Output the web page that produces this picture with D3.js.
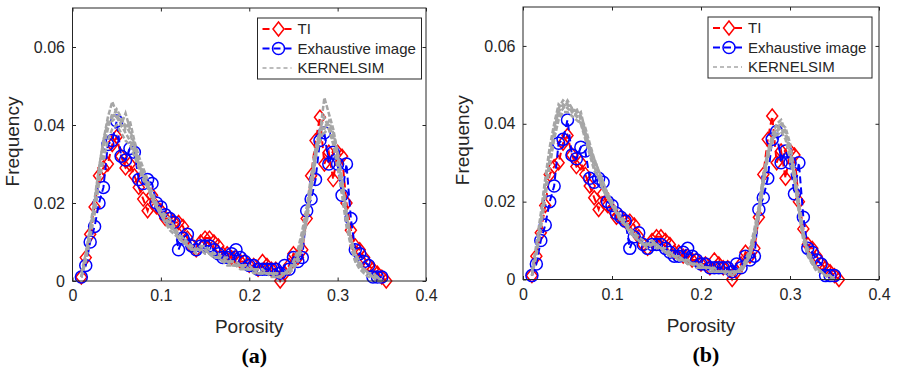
<!DOCTYPE html>
<html>
<head>
<meta charset="utf-8">
<script src="https://cdn.jsdelivr.net/npm/d3@7"></script>
<style>
body{margin:0;background:#fff;}
text{font-family:"Liberation Sans",Arial,Helvetica,sans-serif;fill:#262626;}
.caption{font-family:"Liberation Serif","Times New Roman",serif;font-weight:bold;fill:#000;}
</style>
</head>
<body>
<script>
//porosity bin centres (x values)
var porosity = [0.010,0.015,0.020,0.025,0.030,0.035,0.040,0.045,0.050,0.055,
    0.060,0.065,0.070,0.075,0.080,0.085,0.090,0.095,0.100,0.105,
    0.110,0.115,0.120,0.125,0.130,0.135,0.140,0.145,0.150,0.155,
    0.160,0.165,0.170,0.175,0.180,0.185,0.190,0.195,0.200,0.205,
    0.210,0.215,0.220,0.225,0.230,0.235,0.240,0.245,0.250,0.255,
    0.260,0.265,0.270,0.275,0.280,0.285,0.290,0.295,0.300,0.305,
    0.310,0.315,0.320,0.325,0.330,0.335,0.340,0.345,0.350,0.355];

//training image histogram
var tiFreq = [0.001,0.006,0.012,0.019,0.027,0.029,0.030,0.035,0.037,0.032,
    0.029,0.030,0.027,0.024,0.021,0.018,0.022,0.019,0.018,0.016,
    0.016,0.015,0.015,0.014,0.011,0.009,0.008,0.010,0.011,0.011,
    0.010,0.009,0.007,0.007,0.006,0.006,0.005,0.005,0.004,0.004,
    0.003,0.005,0.004,0.003,0.003,0.000,0.002,0.004,0.007,0.006,
    0.008,0.016,0.027,0.036,0.042,0.030,0.033,0.026,0.033,0.032,
    0.020,0.013,0.009,0.008,0.006,0.004,0.003,0.002,0.001,0.000];

//exhaustive image histogram
var eiFreq = [0.001,0.004,0.010,0.014,0.020,0.024,0.035,0.036,0.041,0.032,
    0.031,0.034,0.033,0.026,0.025,0.026,0.025,0.020,0.019,0.017,
    0.016,0.015,0.008,0.011,0.012,0.009,0.008,0.009,0.009,0.009,
    0.008,0.007,0.006,0.006,0.007,0.008,0.006,0.005,0.004,0.004,
    0.003,0.003,0.003,0.003,0.003,0.002,0.004,0.003,0.006,0.005,
    0.006,0.018,0.021,0.026,0.036,0.038,0.030,0.033,0.030,0.022,
    0.030,0.016,0.008,0.007,0.005,0.004,0.001,0.001,0.001];

//KERNELSIM realizations, panel (a)
var kernelA1 = [0.001,0.006,0.012,0.019,0.027,0.034,0.039,0.043,0.042,0.041,
    0.040,0.038,0.034,0.031,0.028,0.025,0.023,0.020,0.018,0.017,
    0.016,0.014,0.012,0.011,0.010,0.009,0.008,0.009,0.009,0.008,
    0.007,0.007,0.006,0.006,0.005,0.005,0.004,0.004,0.004,0.003,
    0.003,0.003,0.002,0.002,0.002,0.002,0.002,0.003,0.004,0.006,
    0.011,0.017,0.025,0.033,0.038,0.040,0.040,0.037,0.031,0.025,
    0.017,0.010,0.006,0.004,0.003,0.002,0.001,0.001,0.000];
var kernelA2 = [0.002,0.007,0.014,0.021,0.029,0.036,0.042,0.046,0.043,0.040,
    0.043,0.039,0.035,0.030,0.027,0.024,0.021,0.019,0.017,0.015,
    0.014,0.013,0.011,0.010,0.009,0.008,0.008,0.008,0.007,0.007,
    0.006,0.006,0.005,0.005,0.004,0.004,0.004,0.003,0.003,0.003,
    0.002,0.002,0.002,0.002,0.001,0.001,0.002,0.002,0.003,0.005,
    0.009,0.015,0.023,0.031,0.038,0.047,0.043,0.039,0.033,0.026,
    0.018,0.011,0.007,0.005,0.003,0.002,0.001,0.001,0.000];
var kernelA3 = [0.001,0.005,0.011,0.017,0.025,0.031,0.036,0.039,0.040,0.038,
    0.036,0.035,0.032,0.029,0.026,0.024,0.022,0.019,0.017,0.016,
    0.015,0.013,0.012,0.011,0.009,0.008,0.007,0.008,0.008,0.007,
    0.007,0.006,0.006,0.005,0.005,0.004,0.004,0.003,0.003,0.003,
    0.003,0.002,0.002,0.002,0.002,0.001,0.002,0.003,0.005,0.007,
    0.012,0.018,0.026,0.034,0.037,0.038,0.039,0.036,0.032,0.024,
    0.016,0.009,0.005,0.004,0.002,0.002,0.001,0.000,0.000];
var kernelA4 = [0.001,0.006,0.013,0.020,0.028,0.035,0.040,0.042,0.044,0.042,
    0.039,0.041,0.036,0.032,0.029,0.026,0.022,0.020,0.018,0.016,
    0.014,0.013,0.011,0.010,0.009,0.009,0.008,0.009,0.008,0.007,
    0.006,0.006,0.005,0.005,0.005,0.004,0.004,0.004,0.003,0.003,
    0.002,0.002,0.002,0.002,0.002,0.001,0.002,0.002,0.004,0.006,
    0.010,0.016,0.024,0.032,0.036,0.039,0.041,0.038,0.033,0.026,
    0.017,0.011,0.007,0.004,0.003,0.002,0.002,0.001,0.000];
var kernelA5 = [0.001,0.007,0.013,0.020,0.029,0.036,0.041,0.041,0.042,0.040,
    0.038,0.036,0.033,0.030,0.027,0.025,0.021,0.019,0.017,0.015,
    0.013,0.012,0.011,0.010,0.009,0.008,0.008,0.008,0.008,0.007,
    0.006,0.006,0.005,0.004,0.004,0.004,0.003,0.003,0.003,0.002,
    0.002,0.002,0.002,0.001,0.001,0.001,0.002,0.003,0.005,0.008,
    0.013,0.019,0.027,0.034,0.039,0.042,0.039,0.035,0.029,0.022,
    0.014,0.009,0.005,0.003,0.002,0.001,0.001,0.000,0.000];

//KERNELSIM realizations, panel (b)
var kernelB1 = [0.002,0.008,0.016,0.025,0.033,0.039,0.043,0.045,0.044,0.043,
    0.044,0.041,0.037,0.033,0.030,0.027,0.024,0.022,0.020,0.018,
    0.016,0.015,0.013,0.012,0.010,0.009,0.009,0.009,0.009,0.008,
    0.007,0.007,0.006,0.006,0.005,0.005,0.004,0.004,0.004,0.003,
    0.003,0.003,0.002,0.002,0.002,0.002,0.002,0.003,0.004,0.006,
    0.010,0.016,0.024,0.031,0.035,0.038,0.039,0.037,0.033,0.026,
    0.018,0.011,0.007,0.004,0.003,0.002,0.001,0.001,0.000];
var kernelB2 = [0.001,0.007,0.015,0.023,0.031,0.038,0.044,0.046,0.045,0.044,
    0.042,0.043,0.038,0.034,0.031,0.028,0.025,0.022,0.019,0.017,
    0.015,0.014,0.012,0.011,0.010,0.009,0.009,0.010,0.009,0.008,
    0.007,0.006,0.006,0.005,0.005,0.004,0.004,0.004,0.003,0.003,
    0.003,0.002,0.002,0.002,0.002,0.001,0.002,0.002,0.004,0.007,
    0.012,0.018,0.026,0.033,0.037,0.040,0.041,0.038,0.034,0.027,
    0.019,0.012,0.007,0.005,0.003,0.002,0.001,0.001,0.000];
var kernelB3 = [0.001,0.006,0.013,0.021,0.029,0.036,0.041,0.043,0.043,0.042,
    0.041,0.040,0.036,0.032,0.028,0.026,0.023,0.021,0.019,0.017,
    0.016,0.014,0.013,0.011,0.010,0.009,0.008,0.009,0.008,0.008,
    0.007,0.006,0.006,0.005,0.005,0.004,0.004,0.003,0.003,0.003,
    0.002,0.002,0.002,0.002,0.001,0.002,0.002,0.003,0.005,0.008,
    0.013,0.019,0.027,0.033,0.036,0.037,0.038,0.036,0.031,0.025,
    0.017,0.010,0.006,0.004,0.002,0.002,0.001,0.000,0.000];
var kernelB4 = [0.002,0.009,0.017,0.026,0.034,0.040,0.045,0.044,0.046,0.044,
    0.043,0.042,0.039,0.035,0.031,0.028,0.025,0.022,0.020,0.018,
    0.016,0.015,0.013,0.012,0.011,0.010,0.009,0.010,0.009,0.008,
    0.008,0.007,0.006,0.006,0.005,0.005,0.004,0.004,0.003,0.003,
    0.003,0.002,0.002,0.002,0.002,0.002,0.002,0.002,0.004,0.006,
    0.011,0.017,0.025,0.032,0.036,0.039,0.040,0.039,0.035,0.028,
    0.020,0.012,0.008,0.005,0.003,0.002,0.001,0.001,0.000];
var kernelB5 = [0.001,0.007,0.014,0.022,0.030,0.037,0.042,0.044,0.045,0.043,
    0.042,0.040,0.037,0.033,0.029,0.026,0.023,0.021,0.019,0.017,
    0.015,0.014,0.012,0.011,0.010,0.009,0.009,0.009,0.009,0.008,
    0.007,0.007,0.006,0.005,0.005,0.004,0.004,0.004,0.003,0.003,
    0.003,0.002,0.002,0.002,0.002,0.001,0.002,0.003,0.004,0.007,
    0.012,0.018,0.026,0.032,0.036,0.038,0.040,0.038,0.033,0.026,
    0.018,0.011,0.007,0.004,0.003,0.002,0.001,0.001,0.000];

var xTicks = [0, 0.1, 0.2, 0.3, 0.4];
var yTicks = [0, 0.02, 0.04, 0.06];
var legendLabels = ["TI", "Exhaustive image", "KERNELSIM"];
var panelLabels = ["(a)", "(b)"];

//begin script when window loads
window.onload = function(){
    var width = 898,
        height = 374;

    var svg = d3.select("body")
        .append("svg")
        .attr("width", width)
        .attr("height", height);

    drawPanel(svg, {left: 72.5, right: 426, top: 8, bottom: 281},
        [kernelA1, kernelA2, kernelA3, kernelA4, kernelA5], panelLabels[0]);
    drawPanel(svg, {left: 523, right: 879, top: 7, bottom: 279.5},
        [kernelB1, kernelB2, kernelB3, kernelB4, kernelB5], panelLabels[1]);
};

//diamond marker like matlab 'd'
var diamondPath = "M0,-7L5.5,0L0,7L-5.5,0Z";

function drawPanel(svg, box, kernels, label){
    var x = d3.scaleLinear().domain([0, 0.4]).range([box.left, box.right]);
    var y = d3.scaleLinear().domain([0, 0.07]).range([box.bottom, box.top]);

    var line = d3.line()
        .x(function(d){ return x(d[0]); })
        .y(function(d){ return y(d[1]); });

    var g = svg.append("g");

    //TI: red dashed with diamonds
    var tiData = d3.zip(porosity, tiFreq);
    g.append("path")
        .datum(tiData)
        .attr("d", line)
        .attr("fill", "none")
        .attr("stroke", "#ff0000")
        .attr("stroke-width", 2)
        .attr("stroke-dasharray", "7,4");
    g.selectAll(".ti")
        .data(tiData)
        .enter()
        .append("path")
        .attr("class", "ti")
        .attr("d", diamondPath)
        .attr("transform", function(d){ return "translate(" + x(d[0]) + "," + y(d[1]) + ")"; })
        .attr("fill", "none")
        .attr("stroke", "#ff0000")
        .attr("stroke-width", 1.5);

    //exhaustive image: blue dashed with circles
    var eiData = d3.zip(porosity, eiFreq);
    g.append("path")
        .datum(eiData)
        .attr("d", line)
        .attr("fill", "none")
        .attr("stroke", "#0000ff")
        .attr("stroke-width", 2)
        .attr("stroke-dasharray", "7,4");
    g.selectAll(".ei")
        .data(eiData)
        .enter()
        .append("circle")
        .attr("class", "ei")
        .attr("cx", function(d){ return x(d[0]); })
        .attr("cy", function(d){ return y(d[1]); })
        .attr("r", 6)
        .attr("fill", "none")
        .attr("stroke", "#0000ff")
        .attr("stroke-width", 1.5);

    //kernelsim realizations on top
    g.selectAll(".kernel")
        .data(kernels)
        .enter()
        .append("path")
        .attr("class", "kernel")
        .attr("d", function(k){ return line(d3.zip(porosity, k)); })
        .attr("fill", "none")
        .attr("stroke", "#a6a6a6")
        .attr("stroke-width", 2.5)
        .attr("stroke-dasharray", "5,2");

    //axes, ticks pointing inward on all four sides
    var axisColor = "#262626";
    var xAxis = g.append("g")
        .attr("transform", "translate(0," + box.bottom + ")")
        .call(d3.axisBottom(x).tickValues(xTicks).tickSize(-3.5).tickSizeOuter(0).tickPadding(9).tickFormat(d3.format("")));
    var yAxis = g.append("g")
        .attr("transform", "translate(" + box.left + ",0)")
        .call(d3.axisLeft(y).tickValues(yTicks).tickSize(-3.5).tickSizeOuter(0).tickPadding(7.5).tickFormat(d3.format("")));
    var topAxis = g.append("g")
        .attr("transform", "translate(0," + box.top + ")")
        .call(d3.axisTop(x).tickValues(xTicks).tickSize(-3.5).tickSizeOuter(0).tickFormat(""));
    var rightAxis = g.append("g")
        .attr("transform", "translate(" + box.right + ",0)")
        .call(d3.axisRight(y).tickValues(yTicks).tickSize(-3.5).tickSizeOuter(0).tickFormat(""));

    [xAxis, yAxis, topAxis, rightAxis].forEach(function(a){
        a.attr("color", axisColor)
            .attr("font-size", 16)
            .attr("font-family", null);
        a.select(".domain").remove();
    });

    g.append("rect")
        .attr("x", box.left)
        .attr("y", box.top)
        .attr("width", box.right - box.left)
        .attr("height", box.bottom - box.top)
        .attr("fill", "none")
        .attr("stroke", axisColor)
        .attr("stroke-width", 1);

    //axis titles
    g.append("text")
        .attr("transform", "translate(" + (box.left - 54) + "," + ((box.top + box.bottom) / 2 - 3) + ") rotate(-90)")
        .attr("text-anchor", "middle")
        .attr("font-size", 19)
        .text("Frequency");
    g.append("text")
        .attr("x", (box.left + box.right) / 2)
        .attr("y", box.bottom + 52)
        .attr("text-anchor", "middle")
        .attr("font-size", 19)
        .text("Porosity");
    g.append("text")
        .attr("class", "caption")
        .attr("x", (box.left + box.right) / 2 + 5)
        .attr("y", box.bottom + 82)
        .attr("text-anchor", "middle")
        .attr("font-size", 22)
        .text(label);

    //legend
    var lx = box.left + 185,
        ly = box.top + 10;
    var legend = g.append("g");
    legend.append("rect")
        .attr("x", lx)
        .attr("y", ly)
        .attr("width", 164)
        .attr("height", 61)
        .attr("fill", "#fff")
        .attr("stroke", axisColor)
        .attr("stroke-width", 1);

    var styles = [
        {color: "#ff0000", dash: "7,4", marker: "diamond"},
        {color: "#0000ff", dash: "7,4", marker: "circle"},
        {color: "#a6a6a6", dash: "4,3", marker: null}
    ];
    legendLabels.forEach(function(name, i){
        var cy = ly + 11 + i * 19.5;
        var s = styles[i];
        legend.append("line")
            .attr("x1", lx + 5)
            .attr("x2", lx + 34)
            .attr("y1", cy)
            .attr("y2", cy)
            .attr("stroke", s.color)
            .attr("stroke-width", s.marker ? 2 : 1.5)
            .attr("stroke-dasharray", s.dash);
        if (s.marker == "diamond"){
            legend.append("path")
                .attr("d", diamondPath)
                .attr("transform", "translate(" + (lx + 21) + "," + cy + ")")
                .attr("fill", "#fff")
                .attr("stroke", s.color)
                .attr("stroke-width", 1.5);
        } else if (s.marker == "circle"){
            legend.append("circle")
                .attr("cx", lx + 21)
                .attr("cy", cy)
                .attr("r", 6)
                .attr("fill", "none")
                .attr("stroke", s.color)
                .attr("stroke-width", 1.5);
        }
        legend.append("text")
            .attr("x", lx + 40)
            .attr("y", cy)
            .attr("dy", "0.35em")
            .attr("font-size", 15)
            .text(name);
    });
}
</script>
</body>
</html>
